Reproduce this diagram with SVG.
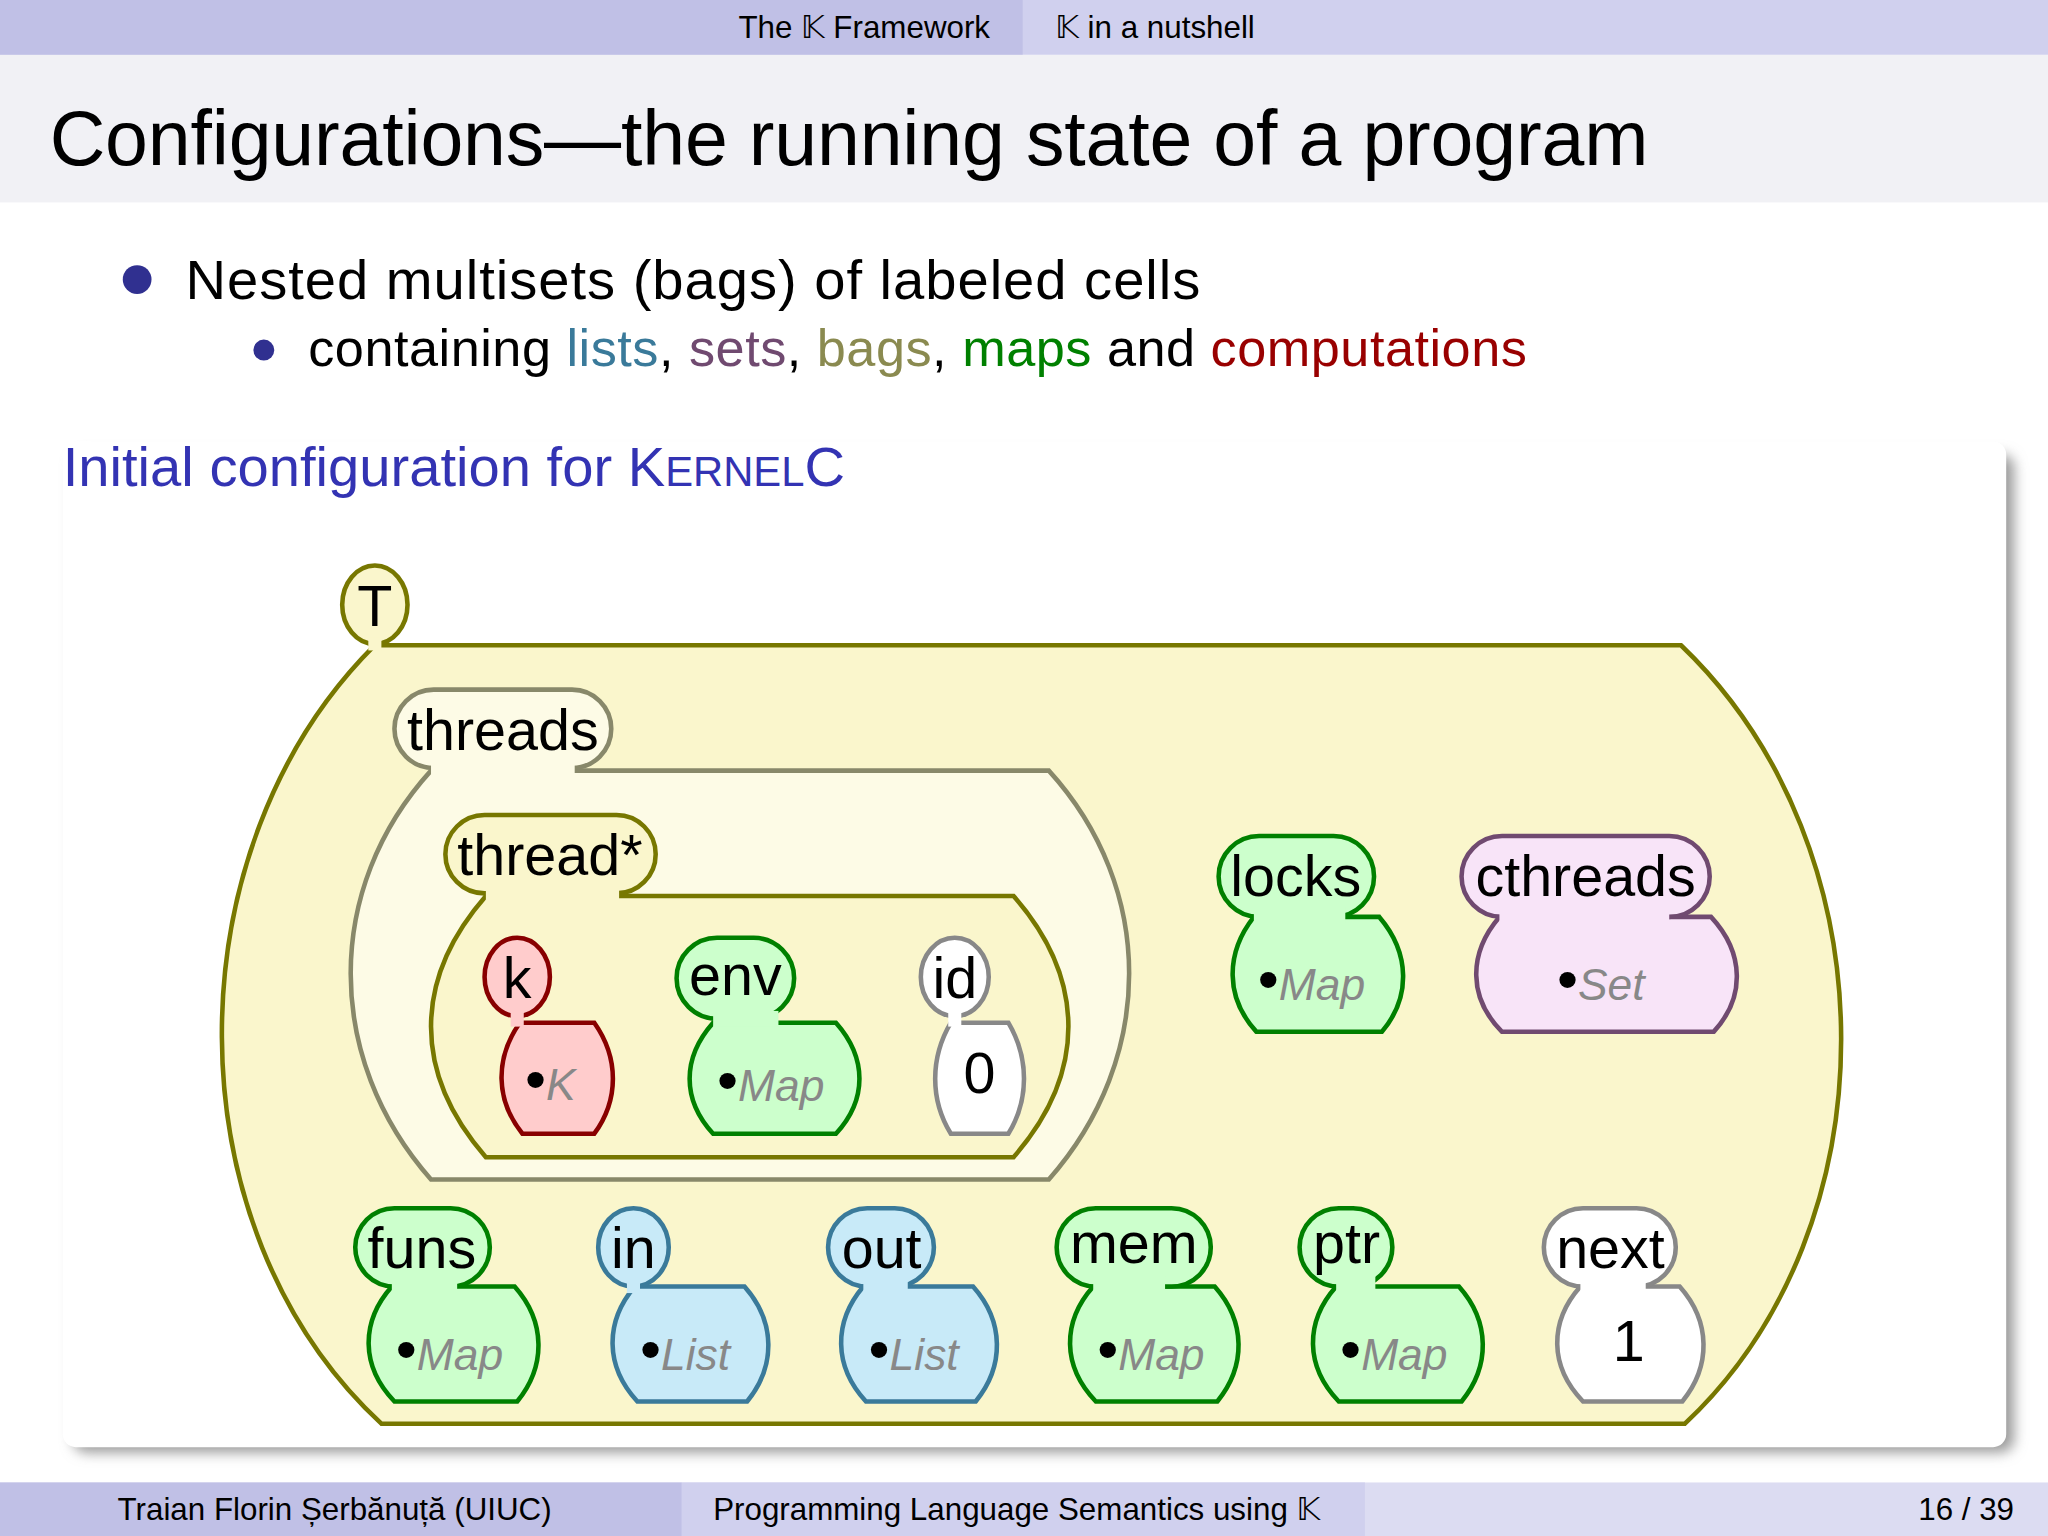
<svg xmlns="http://www.w3.org/2000/svg" width="2048" height="1536" viewBox="0 0 2048 1536">
<defs>
<style>
text{font-family:"Liberation Sans","DejaVu Sans",sans-serif}
.lbl{font-size:44px;fill:#000;text-anchor:middle}
.val{font-size:34px;fill:#888;font-style:italic}
.dot{font-size:46px;fill:#000;font-style:normal}
.g{fill:#ccffcc;stroke:#008000;stroke-width:3.5}
.r{fill:#ffcccc;stroke:#880000;stroke-width:3.5}
.w{fill:#ffffff;stroke:#888888;stroke-width:3.5}
.b{fill:#c8eaf8;stroke:#3a7a9a;stroke-width:3.5}
.p{fill:#f8e4f8;stroke:#704a70;stroke-width:3.5}
.y{fill:#faf6cc;stroke:#777700;stroke-width:3.5}
.ly{fill:#fdfbe6;stroke:#88886a;stroke-width:3.5}
</style>
<filter id="sh" x="-5%" y="-5%" width="110%" height="110%"><feGaussianBlur stdDeviation="5"/></filter>
</defs>
<g transform="scale(1.306122)">
<rect x="0" y="0" width="1568" height="1176" fill="#fff"/>
<rect x="0" y="0" width="1568" height="42" fill="#d0d0ee"/>
<rect x="0" y="0" width="783" height="42" fill="#c0c0e6"/>
<text x="758" y="29" font-size="24" text-anchor="end">The 𝕂 Framework</text>
<text x="808" y="29" font-size="24">𝕂 in a nutshell</text>
<rect x="0" y="42" width="1568" height="113" fill="#f1f1f5"/>
<text x="38" y="126" font-size="59" textLength="1224">Configurations—the running state of a program</text>
<circle cx="105" cy="214" r="11" fill="#303090"/>
<text x="142" y="229" font-size="43" textLength="777">Nested multisets (bags) of labeled cells</text>
<circle cx="202" cy="268" r="8" fill="#303090"/>
<text x="236" y="280" font-size="40" textLength="933">containing <tspan fill="#3a7a9a">lists</tspan>, <tspan fill="#704a70">sets</tspan>, <tspan fill="#8a8a50">bags</tspan>, <tspan fill="#008000">maps</tspan> and <tspan fill="#990000">computations</tspan></text>
<rect x="56" y="348" width="1486" height="764" rx="10" fill="#999" filter="url(#sh)"/>
<rect x="48" y="338" width="1488" height="770" rx="10" fill="#fff"/>
<text x="48" y="372" font-size="43" fill="#3333b3">Initial configuration for K<tspan font-size="32">ERNEL</tspan>C</text>

<g id="T">
<path class="y" d="M287,494 H1287 C1450,650 1450,940 1290,1090 H292 C130,940 130,650 287,494 Z"/>
<ellipse class="y" cx="287" cy="463" rx="25" ry="30"/>
<rect x="282" y="488" width="10" height="10" fill="#faf6cc"/>
<text class="lbl" x="287" y="479">T</text>
</g>
<g id="threads">
<path class="ly" d="M330,590 H803 C885,680 885,810 803,903 H330 C248,810 248,680 330,590 Z"/>
<rect class="ly" x="302" y="528" width="166" height="60" rx="30"/>
<rect x="330" y="582" width="110" height="12" fill="#fdfbe6"/>
<text class="lbl" x="385" y="574">threads</text>
</g>
<g id="thread">
<path class="y" d="M372,686 H776 C832,750 832,822 776,886 H372 C316,822 316,750 372,686 Z"/>
<rect class="y" x="341" y="624" width="161" height="60" rx="30"/>
<rect x="372" y="678" width="102" height="12" fill="#faf6cc"/>
<text class="lbl" x="421" y="670">thread*</text>
</g>
<g id="k">
<path class="r" d="M398,783 H455 C474,810 474,842 455,868 H400 C379,842 379,810 398,783 Z"/>
<ellipse class="r" cx="396" cy="748" rx="25" ry="30"/>
<rect x="391" y="774" width="10" height="12" fill="#ffcccc"/>
<text class="lbl" x="396" y="764">k</text>
<text class="val" x="402" y="842"><tspan class="dot">•</tspan>K</text>
</g>
<g id="env">
<path class="g" d="M546,783 H640 C664,810 664,842 640,868 H546 C522,842 522,810 546,783 Z"/>
<rect class="g" x="518" y="718" width="90" height="62" rx="31"/>
<rect x="546" y="774" width="50" height="12" fill="#ccffcc"/>
<text class="lbl" x="563" y="762">env</text>
<text class="val" x="549" y="843"><tspan class="dot">•</tspan>Map</text>
</g>
<g id="id">
<path class="w" d="M728,783 H772 C788,810 788,842 772,868 H728 C712,842 712,810 728,783 Z"/>
<ellipse class="w" cx="731" cy="748" rx="26" ry="30"/>
<rect x="726" y="774" width="10" height="12" fill="#fff"/>
<text class="lbl" x="731" y="764">id</text>
<text class="lbl" x="750" y="837">0</text>
</g>
<g id="locks">
<path class="g" d="M960,702 H1056 C1080,730 1080,764 1058,790 H962 C938,764 938,730 960,702 Z"/>
<rect class="g" x="933" y="640" width="119" height="62" rx="31"/>
<rect x="960" y="694" width="70" height="12" fill="#ccffcc"/>
<text class="lbl" x="992" y="686">locks</text>
<text class="val" x="963" y="766"><tspan class="dot">•</tspan>Map</text>
</g>
<g id="cthreads">
<path class="p" d="M1148,702 H1310 C1336,730 1336,764 1312,790 H1150 C1124,764 1124,730 1148,702 Z"/>
<rect class="p" x="1119" y="640" width="190" height="62" rx="31"/>
<rect x="1148" y="694" width="130" height="12" fill="#f8e4f8"/>
<text class="lbl" x="1214" y="686">cthreads</text>
<text class="val" x="1192" y="766"><tspan class="dot">•</tspan>Set</text>
</g>
<g id="funs">
<path class="g" d="M300,985 H394 C418,1012 418,1046 396,1073 H302 C276,1046 276,1012 300,985 Z"/>
<rect class="g" x="272" y="925" width="103" height="60" rx="30"/>
<rect x="300" y="977" width="50" height="12" fill="#ccffcc"/>
<text class="lbl" x="323" y="971">funs</text>
<text class="val" x="303" y="1049"><tspan class="dot">•</tspan>Map</text>
</g>
<g id="in">
<path class="b" d="M486,985 H570 C594,1012 594,1046 572,1073 H488 C463,1046 463,1012 486,985 Z"/>
<ellipse class="b" cx="485" cy="955" rx="27" ry="30"/>
<rect x="480" y="980" width="10" height="10" fill="#c8eaf8"/>
<text class="lbl" x="485" y="971">in</text>
<text class="val" x="490" y="1049"><tspan class="dot">•</tspan>List</text>
</g>
<g id="out">
<path class="b" d="M661,985 H745 C769,1012 769,1046 747,1073 H663 C638,1046 638,1012 661,985 Z"/>
<rect class="b" x="634" y="925" width="81" height="60" rx="30"/>
<rect x="661" y="977" width="34" height="12" fill="#c8eaf8"/>
<text class="lbl" x="675" y="971">out</text>
<text class="val" x="665" y="1049"><tspan class="dot">•</tspan>List</text>
</g>
<g id="mem">
<path class="g" d="M837,985 H930 C954,1012 954,1046 932,1073 H839 C813,1046 813,1012 837,985 Z"/>
<rect class="g" x="809" y="925" width="118" height="60" rx="30"/>
<rect x="837" y="977" width="55" height="12" fill="#ccffcc"/>
<text class="lbl" x="868" y="967">mem</text>
<text class="val" x="840" y="1049"><tspan class="dot">•</tspan>Map</text>
</g>
<g id="ptr">
<path class="g" d="M1023,985 H1117 C1141,1012 1141,1046 1119,1073 H1025 C999,1046 999,1012 1023,985 Z"/>
<rect class="g" x="995" y="925" width="71" height="60" rx="30"/>
<rect x="1023" y="977" width="30" height="12" fill="#ccffcc"/>
<text class="lbl" x="1031" y="967">ptr</text>
<text class="val" x="1026" y="1049"><tspan class="dot">•</tspan>Map</text>
</g>
<g id="next">
<path class="w" d="M1210,985 H1286 C1310,1012 1310,1046 1288,1073 H1212 C1186,1046 1186,1012 1210,985 Z"/>
<rect class="w" x="1182" y="925" width="101" height="60" rx="30"/>
<rect x="1210" y="977" width="50" height="12" fill="#fff"/>
<text class="lbl" x="1233" y="971">next</text>
<text class="lbl" x="1247" y="1042">1</text>
</g>
<g id="connectors"></g>

<rect x="0" y="1135" width="1568" height="41" fill="#dcdcf2"/>
<rect x="0" y="1135" width="522" height="41" fill="#c0c0e6"/>
<rect x="522" y="1135" width="523" height="41" fill="#d0d0ee"/>
<text x="90" y="1164" font-size="24">Traian Florin Șerbănuță  (UIUC)</text>
<text x="546" y="1164" font-size="24">Programming Language Semantics using 𝕂</text>
<text x="1542" y="1164" font-size="24" text-anchor="end">16 / 39</text>
</g>
</svg>
